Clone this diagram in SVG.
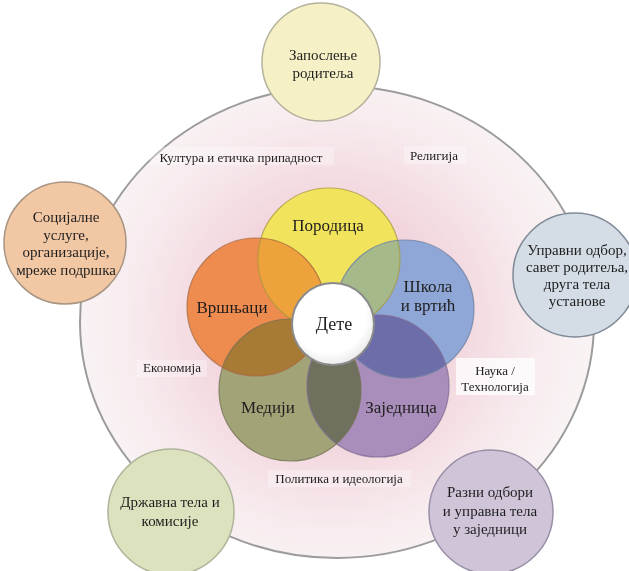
<svg xmlns="http://www.w3.org/2000/svg" width="629" height="571" viewBox="0 0 629 571">
<defs>
  <radialGradient id="glow" cx="333" cy="323" r="255" gradientUnits="userSpaceOnUse">
    <stop offset="0" stop-color="#ebbcc9"/>
    <stop offset="0.45" stop-color="#f2d5dd"/>
    <stop offset="0.8" stop-color="#f7ebee"/>
    <stop offset="1" stop-color="#f9f3f4"/>
  </radialGradient>
  <radialGradient id="deteFill" cx="0.45" cy="0.4" r="0.65">
    <stop offset="0.7" stop-color="#ffffff"/>
    <stop offset="1" stop-color="#e4e4e4"/>
  </radialGradient>
</defs>
<style>
  text { font-family: "Liberation Serif", "Times New Roman", serif; fill: #1e1e1e; text-anchor: middle; }
  .in { font-size: 17px; }
  .out { font-size: 15px; }
  .lab { font-size: 13px; }
  .edge { fill: none; stroke-width: 1.2; stroke-opacity: 0.75; }
  .outer { stroke-width: 1.5; }
  .lbg { fill: #ffffff; }
  .bg { mix-blend-mode: multiply; }
</style>

<rect class="bg" width="629" height="571" fill="#ffffff"/>

<g id="ring">
  <ellipse cx="337" cy="322" rx="257" ry="236" fill="url(#glow)" stroke="#9c9c9c" stroke-width="2"/>
</g>

<g id="connectors"/>

<g id="labels">
  <g id="label-kultura">
    <rect class="lbg" x="150" y="147" width="184" height="18" opacity="0.3"/>
    <text class="lab" x="241" y="162">Култура и етичка припадност</text>
  </g>
  <g id="label-religija">
    <rect class="lbg" x="404" y="146" width="62" height="18" opacity="0.3"/>
    <text class="lab" x="434" y="160">Религија</text>
  </g>
  <g id="label-ekonomija">
    <rect class="lbg" x="137" y="360" width="70" height="17" opacity="0.3"/>
    <text class="lab" x="172" y="372">Економија</text>
  </g>
  <g id="label-nauka">
    <rect class="lbg" x="456" y="358" width="79" height="37" opacity="0.75"/>
    <text class="lab" x="495" y="375">Наука /</text>
    <text class="lab" x="495" y="391">Технологија</text>
  </g>
  <g id="label-politika">
    <rect class="lbg" x="268" y="470" width="143" height="17" opacity="0.3"/>
    <text class="lab" x="339" y="483">Политика и идеологија</text>
  </g>
</g>

<g id="flower">
  <g id="fills">
    <circle cx="329" cy="259" r="71" fill="#f2e35c"/>
    <circle cx="405" cy="309" r="69" fill="#8fa7d6"/>
    <circle cx="378" cy="386" r="71" fill="#a98dba"/>
    <circle cx="290" cy="390" r="71" fill="#a2a377"/>
    <circle cx="256" cy="307" r="69" fill="#ee8b4f"/>
  </g>
  <g id="overlaps">
    <path d="M261.1,238.2 A71,71 0 0 0 321.2,329.6 A69,69 0 0 0 261.1,238.2 Z" fill="#eea23c"/>
    <path d="M339.1,329.3 A71,71 0 0 0 397.5,240.4 A69,69 0 0 0 339.1,329.3 Z" fill="#a6b98b"/>
    <path d="M338.4,327.1 A69,69 0 0 0 445.7,364.7 A71,71 0 0 0 338.4,327.1 Z" fill="#6d6daa"/>
    <path d="M331.5,332.4 A71,71 0 0 0 336.5,443.6 A71,71 0 0 0 331.5,332.4 Z" fill="#6f705e"/>
    <path d="M322.1,326.7 A71,71 0 0 0 222.7,367.4 A69,69 0 0 0 322.1,326.7 Z" fill="#a77a36"/>
  </g>
  <g id="node-porodica">
    <circle class="edge" cx="329" cy="259" r="71" stroke="#a89a3c"/>
    <text class="in" x="328" y="231">Породица</text>
  </g>
  <g id="node-skola">
    <circle class="edge" cx="405" cy="309" r="69" stroke="#6a7fa0"/>
    <text class="in" x="428" y="292">Школа</text>
    <text class="in" x="428" y="311">и вртић</text>
  </g>
  <g id="node-zajednica">
    <circle class="edge" cx="378" cy="386" r="71" stroke="#7a6890"/>
    <text class="in" x="401" y="413">Заједница</text>
  </g>
  <g id="node-mediji">
    <circle class="edge" cx="290" cy="390" r="71" stroke="#707050"/>
    <text class="in" x="268" y="413">Медији</text>
  </g>
  <g id="node-vrsnjaci">
    <circle class="edge" cx="256" cy="307" r="69" stroke="#a66a40"/>
    <text class="in" x="232" y="313">Вршњаци</text>
  </g>
</g>

<g id="node-dete">
  <circle cx="333" cy="324" r="41" fill="url(#deteFill)" stroke="#8a8a8a" stroke-width="2"/>
  <text class="in" x="334" y="330" style="font-size:18px">Дете</text>
</g>

<g id="node-zaposlenje">
  <circle class="outer" cx="321" cy="62" r="59" fill="#f5f0c6" stroke="#b4b29c"/>
  <text class="out" x="323" y="60">Запослење</text>
  <text class="out" x="323" y="78">родитеља</text>
</g>

<g id="node-socijalne">
  <circle class="outer" cx="65" cy="243" r="61" fill="#f2c8a4" stroke="#a89583"/>
  <text class="out" x="66" y="222">Социјалне</text>
  <text class="out" x="66" y="240">услуге,</text>
  <text class="out" x="66" y="257">организације,</text>
  <text class="out" x="66" y="275">мреже подршка</text>
</g>

<g id="node-upravni">
  <circle class="outer" cx="575" cy="275" r="62" fill="#d4dce5" stroke="#7f8a96"/>
  <text class="out" x="577" y="255">Управни одбор,</text>
  <text class="out" x="577" y="272">савет родитеља,</text>
  <text class="out" x="577" y="289">друга тела</text>
  <text class="out" x="577" y="306">установе</text>
</g>

<g id="node-drzavna">
  <circle class="outer" cx="171" cy="512" r="63" fill="#dce2bd" stroke="#b0b49a"/>
  <text class="out" x="170" y="507">Државна тела и</text>
  <text class="out" x="170" y="526">комисије</text>
</g>

<g id="node-razni">
  <circle class="outer" cx="491" cy="512" r="62" fill="#cfc4d8" stroke="#9a90a6"/>
  <text class="out" x="490" y="497">Разни одбори</text>
  <text class="out" x="490" y="516">и управна тела</text>
  <text class="out" x="490" y="534">у заједници</text>
</g>
</svg>
